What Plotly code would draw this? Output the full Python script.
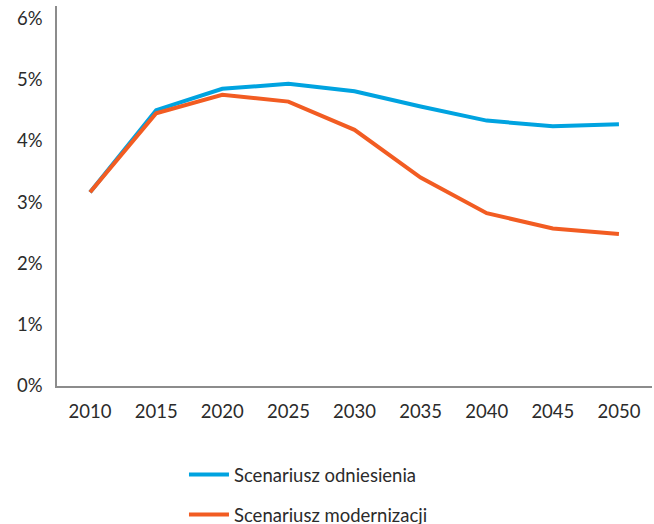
import plotly.graph_objects as go

# data
years = ["2010", "2015", "2020", "2025", "2030", "2035", "2040", "2045", "2050"]
odniesienia = [3.16, 4.50, 4.85, 4.93, 4.81, 4.56, 4.33, 4.24, 4.27]
modernizacji = [3.16, 4.45, 4.75, 4.64, 4.18, 3.40, 2.82, 2.57, 2.48]
y_ticks = [0, 1, 2, 3, 4, 5, 6]
y_labels = ["0%", "1%", "2%", "3%", "4%", "5%", "6%"]

blue = "#00A3E0"
orange = "#F25C22"

fig = go.Figure()

fig.add_trace(go.Scatter(
    x=years, y=odniesienia, mode="lines", name="Scenariusz odniesienia",
    line=dict(color=blue, width=4), legendgroup="a"
))
fig.add_trace(go.Scatter(
    x=years, y=modernizacji, mode="lines", name="Scenariusz modernizacji",
    line=dict(color=orange, width=4), legendgroup="b"
))

fig.update_layout(
    width=654, height=524,
    margin=dict(l=57, r=2, t=6, b=138),
    paper_bgcolor="white", plot_bgcolor="white",
    font=dict(family="Lato", size=18.5, color="#2b2b2b"),
    showlegend=True,
    legend=dict(
        orientation="v", xref="paper", yref="container",
        x=0.2134, xanchor="left", y=0.130, yanchor="top",
        tracegroupgap=13, itemwidth=40, font=dict(size=18.5, color="#2b2b2b"),
    ),
    xaxis=dict(
        type="category", range=[-0.5, 8.5], automargin=False,
        showline=True, linecolor="#8c8c8c", linewidth=1.5,
        showgrid=False, ticks="", ticklabelstandoff=8,
    ),
    yaxis=dict(
        range=[0, 6.2], tickvals=y_ticks, ticktext=y_labels, automargin=False,
        showline=True, linecolor="#8c8c8c", linewidth=1.5,
        showgrid=False, zeroline=False, ticks="", ticklabelstandoff=9,
    ),
)

# drop the page's default body margin so the 654x524 figure sits at the origin
fig.write_html("out.html", config={"displayModeBar": False},
               post_script="document.body.style.margin='0';")
